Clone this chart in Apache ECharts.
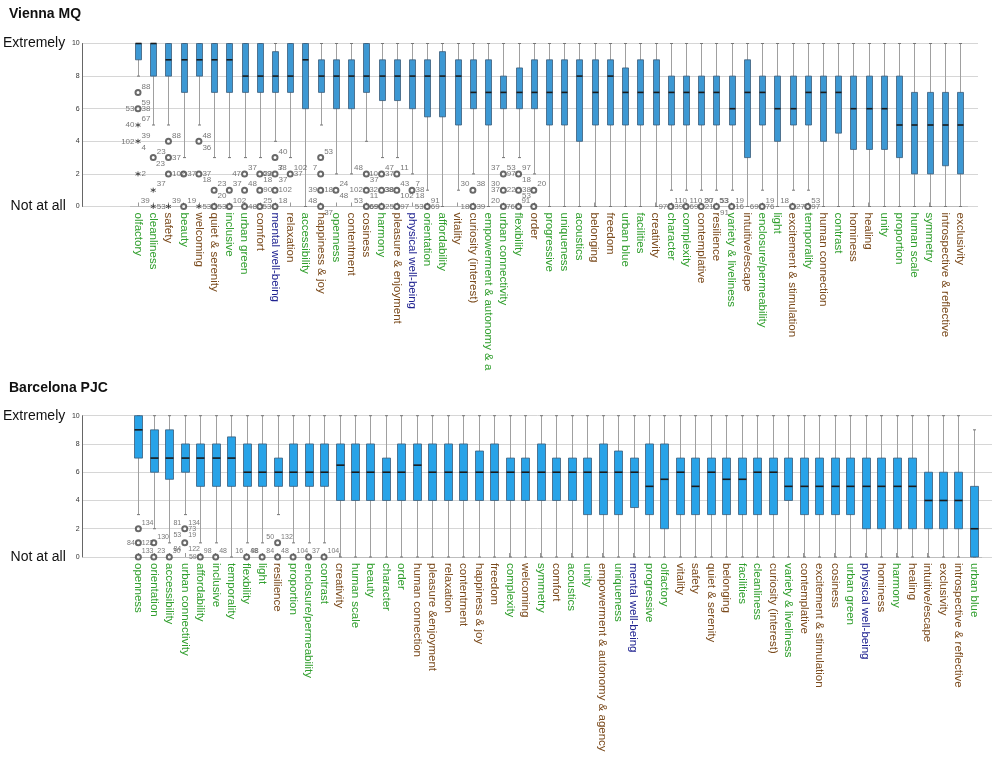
<!DOCTYPE html>
<html>
<head>
<meta charset="utf-8">
<script src="https://cdn.jsdelivr.net/npm/echarts@6/dist/echarts.min.js"></script>
<style>
  html, body { margin: 0; padding: 0; background: #fff; }
  #chart { width: 996px; height: 763px; }
</style>
</head>
<body>
<div id="chart"></div>
<script>
// ---- Vienna MQ ----
var viennaCats = ['olfactory', 'cleanliness', 'safety', 'beauty', 'welcoming', 'quiet & serenity', 'inclusive',
  'urban green', 'comfort', 'mental well-being', 'relaxation', 'accessibility', 'happiness & joy', 'openness',
  'contentment', 'cosiness', 'harmony', 'pleasure & enjoyment', 'physical well-being', 'orientation',
  'affordability', 'vitality', 'curiosity (interest)', 'empowerment & autonomy & agency', 'urban connectivity',
  'flexibility', 'order', 'progressive', 'uniqueness', 'acoustics', 'belonging', 'freedom', 'urban blue',
  'facilities', 'creativity', 'character', 'complexity', 'contemplative', 'resilience', 'variety & liveliness',
  'intuitive/escape', 'enclosure/permeability', 'light', 'excitement & stimulation', 'temporality',
  'human connection', 'contrast', 'hominess', 'healing', 'unity', 'proportion', 'human scale', 'symmetry',
  'introspective & reflective', 'exclusivity'];
// g = green, b = brown, n = navy
var viennaKinds = 'ggbgbbggbnbgbgbbgbnggbbgggbgggbbggbggbbgbggbgbgbbggggbb';
// [lower whisker, Q1, median, Q3, upper whisker]
var viennaBoxes = [
  [8, 9, 10, 10, 10], [5, 8, 10, 10, 10], [5, 8, 9, 10, 10], [3, 7, 9, 10, 10], [5, 8, 9, 10, 10],
  [3, 7, 9, 10, 10], [3, 7, 9, 10, 10], [3, 7, 8, 10, 10], [3, 7, 8, 10, 10], [4, 7, 8, 9.5, 10],
  [3, 7, 8, 10, 10], [0, 6, 9, 10, 10], [5, 7, 8, 9, 10], [2, 6, 8, 9, 10], [2, 6, 8, 9, 10],
  [4, 7, 8, 10, 10], [3, 6.5, 8, 9, 10], [3, 6.5, 8, 9, 10], [2, 6, 8, 9, 10], [1, 5.5, 8, 9, 10],
  [0, 5.5, 8, 9.5, 10], [1, 5, 8, 9, 10], [2, 6, 7, 9, 10], [0, 5, 7, 9, 10], [3, 6, 7, 8, 10],
  [3, 6, 7, 8.5, 10], [2, 6, 7, 9, 10], [0, 5, 7, 9, 10], [0, 5, 7, 9, 10], [0, 4, 8, 9, 10],
  [0, 5, 7, 9, 10], [0, 5, 8, 9, 10], [0, 5, 7, 8.5, 10], [0, 5, 7, 9, 10], [0, 5, 7, 9, 10],
  [1, 5, 7, 8, 10], [1, 5, 7, 8, 10], [1, 5, 7, 8, 10], [1, 5, 7, 8, 10], [1, 5, 6, 8, 10],
  [0, 3, 7, 9, 10], [1, 5, 7, 8, 10], [0, 4, 6, 8, 10], [1, 5, 6, 8, 10], [1, 5, 7, 8, 10],
  [0, 4, 7, 8, 10], [0, 4.5, 7, 8, 10], [0, 3.5, 6, 8, 10], [0, 3.5, 6, 8, 10], [0, 3.5, 6, 8, 10],
  [0, 3, 5, 8, 10], [0, 2, 5, 7, 10], [0, 2, 5, 7, 10], [0, 2.5, 5, 7, 10], [0, 2, 5, 7, 10]];
// outliers: [category index, value, case ids in order: right, left, upper-right, lower-right, upper-left, lower-left]
var viennaOutliers = [
  [0, 7, ['', '', '88']], [0, 6, ['38', '53', '59']], [1, 3, ['', '', '23']], [2, 4, ['', '', '88']],
  [2, 3, ['37', '', '', '', '', '23']], [2, 2, ['102']], [3, 2, ['37']], [3, 0, ['', '', '19']],
  [4, 4, ['', '', '48', '36']], [4, 2, ['37', '', '', '18']], [5, 1, ['', '', '23', '20']], [5, 0, ['53']],
  [6, 1, ['', '', '37']], [6, 0, ['', '', '102']], [7, 2, ['', '47', '37']], [7, 1, ['', '', '48']],
  [7, 0, ['48']], [8, 2, ['22', '', '', '18']], [8, 1, ['90']], [8, 0, ['', '', '25']],
  [9, 3, ['', '', '40']], [9, 2, ['', '69', '7', '37']], [9, 1, ['102']], [9, 0, ['', '53', '18']],
  [10, 2, ['37', '', '102', '', '38']], [12, 3, ['', '', '53']], [12, 2, ['', '', '', '', '7']],
  [12, 1, ['18', '39']], [12, 0, ['', '', '', '37', '48']], [13, 1, ['', '', '24', '48']],
  [15, 2, ['', '', '', '37', '48']], [15, 1, ['', '102', '', '11']], [15, 0, ['69', '', '', '', '53']],
  [16, 2, ['37', '10', '47']], [16, 1, ['38', '32']], [16, 0, ['25', '69']], [17, 2, ['', '', '11']],
  [17, 1, ['', '38', '43', '102']], [17, 0, ['97']], [18, 1, ['38', '', '7', '18']], [19, 0, ['69', '53', '91']],
  [22, 1, ['', '', '38', '', '30']], [22, 0, ['39', '18']], [24, 2, ['97', '', '53', '', '37']],
  [24, 1, ['22', '37', '', '', '30']], [24, 0, ['', '', '', '', '20']], [25, 2, ['', '', '97', '18']],
  [25, 1, ['38', '', '', '53']], [25, 0, ['', '76']], [26, 1, ['', '', '20']], [26, 0, ['', '', '', '', '91']],
  [35, 0, ['39', '97', '110']], [36, 0, ['69', '', '110']], [37, 0, ['21', '', '97']],
  [38, 0, ['', '', '53', '91', '20']], [39, 0, ['16', '', '19', '', '53']], [41, 0, ['76', '69', '19']],
  [43, 0, ['27', '', '', '', '18']], [44, 0, ['97', '', '53']]];
var viennaExtremes = [
  [0, 5, ['', '40', '67']], [0, 4, ['', '102', '39', '4']], [0, 2, ['2']], [1, 1, ['', '', '37']],
  [1, 0, ['53', '', '', '', '39']], [2, 0, ['', '', '39']], [4, 0, ['53']]];

// ---- Barcelona PJC ----
var barcelonaCats = ['openness', 'orientation', 'accessibility', 'urban connectivity', 'affordability', 'inclusive',
  'temporality', 'flexbility', 'light', 'resilience', 'proportion', 'enclosure/permeability', 'contrast',
  'creativity', 'human scale', 'beauty', 'character', 'order', 'human connection', 'pleasure &enjoyment',
  'relaxation', 'contentment', 'happiness & joy', 'freedom', 'complexity', 'welcoming', 'symmetry', 'comfort',
  'acoustics', 'unity', 'empowerment & autonomy & agency', 'uniqueness', 'mental well-being', 'progressive',
  'olfactory', 'vitality', 'safety', 'quiet & serenity', 'belonging', 'facilities', 'cleanliness',
  'curiosity (interest)', 'variety & liveliness', 'contemplative', 'excitement & stimulation', 'cosiness',
  'urban green', 'physical well-being', 'hominess', 'harmony', 'healing', 'intuitive/escape', 'exclusivity',
  'introspective & reflective', 'urban blue'];
var barcelonaKinds = 'gggggggggbgggbggggbbbbbbgbgbggbgnggbbbbggbgbbbgnbgbbbbg';
var barcelonaBoxes = [
  [3, 7, 9, 10, 10], [2, 6, 7, 9, 10], [1, 5.5, 7, 9, 10], [3, 6, 7, 8, 10], [1, 5, 7, 8, 10],
  [1, 5, 7, 8, 10], [0, 5, 7, 8.5, 10], [1, 5, 6, 8, 10], [1, 5, 6, 8, 10], [3, 5, 6, 7, 10],
  [1, 5, 6, 8, 10], [1, 5, 6, 8, 10], [1, 5, 6, 8, 10], [0, 4, 6.5, 8, 10], [0, 4, 6, 8, 10],
  [0, 4, 6, 8, 10], [0, 4, 6, 7, 10], [0, 4, 6, 8, 10], [0, 4, 6.5, 8, 10], [0, 4, 6, 8, 10],
  [0, 4, 6, 8, 10], [0, 4, 6, 8, 10], [0, 4, 6, 7.5, 10], [0, 4, 6, 8, 10], [0, 4, 6, 7, 10],
  [0, 4, 6, 7, 10], [0, 4, 6, 8, 10], [0, 4, 6, 7, 10], [0, 4, 6, 7, 10], [0, 3, 6, 7, 10],
  [0, 3, 6, 8, 10], [0, 3, 6, 7.5, 10], [0, 3.5, 6, 7, 10], [0, 3, 5, 8, 10], [0, 2, 5.5, 8, 10],
  [0, 3, 6, 7, 10], [0, 3, 5, 7, 10], [0, 3, 6, 7, 10], [0, 3, 5.5, 7, 10], [0, 3, 5.5, 7, 10],
  [0, 3, 6, 7, 10], [0, 3, 6, 7, 10], [0, 4, 5, 7, 10], [0, 3, 5, 7, 10], [0, 3, 5, 7, 10],
  [0, 3, 5, 7, 10], [0, 3, 5, 7, 10], [0, 2, 5, 7, 10], [0, 2, 5, 7, 10], [0, 2, 5, 7, 10],
  [0, 2, 5, 7, 10], [0, 2, 4, 6, 10], [0, 2, 4, 6, 10], [0, 2, 4, 6, 10], [0, 0, 2, 5, 9]];
var barcelonaOutliers = [
  [0, 2, ['', '', '134']], [0, 1, ['122', '84']], [0, 0, ['', '', '133']], [1, 1, ['', '', '130']],
  [1, 0, ['', '', '23']], [2, 0, ['', '', '30']], [3, 2, ['73', '', '134', '19', '81', '53']],
  [3, 1, ['', '', '', '122', '', '84']], [4, 0, ['', '59', '98']], [5, 0, ['', '', '48']],
  [7, 0, ['', '', '48', '', '16']], [8, 0, ['', '', '', '', '98']], [9, 1, ['', '', '132', '', '50']],
  [9, 0, ['', '', '48', '', '84']], [10, 0, ['', '', '104']], [11, 0, ['', '', '37']], [12, 0, ['', '', '104']]];
var barcelonaExtremes = [];

var kindColor = { g: '#2f9e2c', b: '#7a4a1c', n: '#1f2290' };
var FONT = 'Arial, "Liberation Sans", sans-serif';

var chartDom = document.getElementById('chart');
var myChart = echarts.init(chartDom, null, { renderer: 'canvas' });

// one box drawn through the axis scales
function boxRenderer(fill, boxW) {
  return function (params, api) {
    var i = api.value(0);
    var low = api.coord([i, api.value(1)]);
    var q1 = api.coord([i, api.value(2)]);
    var med = api.coord([i, api.value(3)]);
    var q3 = api.coord([i, api.value(4)]);
    var high = api.coord([i, api.value(5)]);
    var cx = Math.round(low[0]) + 0.5;
    var h = boxW / 2;
    return {
      type: 'group',
      children: [
        { type: 'line', shape: { x1: cx, y1: high[1], x2: cx, y2: low[1] }, style: { stroke: '#a0a0a0', lineWidth: 1 } },
        { type: 'line', shape: { x1: cx - 1.5, y1: high[1], x2: cx + 1.5, y2: high[1] }, style: { stroke: '#777', lineWidth: 1 } },
        { type: 'line', shape: { x1: cx - 1.5, y1: low[1], x2: cx + 1.5, y2: low[1] }, style: { stroke: '#777', lineWidth: 1 } },
        { type: 'rect', shape: { x: cx - h, y: q3[1], width: boxW, height: q1[1] - q3[1] },
          style: { fill: fill, stroke: '#3b5c78', lineWidth: 0.8 } },
        { type: 'line', shape: { x1: cx - h, y1: med[1], x2: cx + h, y2: med[1] }, style: { stroke: '#1b1b1b', lineWidth: 1.6 } }
      ]
    };
  };
}

var slotOffsets = [
  { position: 'right', offset: [0, 0] }, { position: 'left', offset: [0, 0] },
  { position: 'right', offset: [0, -6] }, { position: 'right', offset: [0, 6] },
  { position: 'left', offset: [0, -6] }, { position: 'left', offset: [0, 6] }];

function labelData(list, fontSize) {
  var out = [];
  list.forEach(function (o) {
    o[2].forEach(function (id, k) {
      if (!id) return;
      out.push({
        value: [o[0], o[1]],
        label: { show: true, formatter: id, position: slotOffsets[k].position, offset: slotOffsets[k].offset,
          distance: 1, fontSize: fontSize, color: '#555', fontFamily: FONT }
      });
    });
  });
  return out;
}

var asterisk = 'path://M0,-5L0,5M-4.3,-2.5L4.3,2.5M-4.3,2.5L4.3,-2.5';

function buildPanel(p) {
  var g = p.gridBase;
  var kindOf = {};
  p.cats.forEach(function (c, i) { kindOf[c] = p.kinds.charAt(i); });
  var grids = [
    { left: p.axisLeft, right: p.axisRight, top: p.top, height: p.height },
    { left: p.boxLeft, right: p.boxRight, top: p.top, height: p.height }
  ];
  var xAxes = [
    { gridIndex: g, type: 'value', show: false, min: 0, max: 1 },
    { gridIndex: g + 1, type: 'category', data: p.cats, boundaryGap: true,
      axisLine: { show: true, lineStyle: { color: '#bdbdbd' } },
      axisTick: { show: true, inside: true, length: 4, alignWithLabel: true, lineStyle: { color: '#999' } },
      axisLabel: { interval: 0, rotate: -90, margin: 6, fontSize: 11.5, fontFamily: FONT,
        width: p.labelWidth, overflow: 'truncate', ellipsis: ' ',
        color: function (v) { return kindColor[kindOf[v]]; } } }
  ];
  var yAxes = [
    { gridIndex: g, type: 'value', min: 0, max: 10, interval: 2,
      axisLine: { show: true, lineStyle: { color: '#666' } }, axisTick: { show: false },
      splitLine: { show: true, lineStyle: { color: '#d6d6d6' } },
      axisLabel: { margin: 3, fontFamily: FONT,
        formatter: function (v) {
          if (v === 10) return '{big|Extremely}  {small|10}';
          if (v === 0) return '{big|Not at all}   {small|0}';
          return '{small|' + v + '}';
        },
        rich: { big: { fontSize: 14, color: '#111', fontFamily: FONT }, small: { fontSize: 7, color: '#333', fontFamily: FONT } } } },
    { gridIndex: g + 1, type: 'value', min: 0, max: 10, show: false, splitLine: { show: false } }
  ];
  var series = [
    { type: 'custom', xAxisIndex: g + 1, yAxisIndex: g + 1, renderItem: boxRenderer(p.fill, p.boxW),
      encode: { x: 0, y: [1, 2, 3, 4, 5] },
      data: p.boxes.map(function (b, i) { return [i].concat(b); }), z: 2 },
    { type: 'scatter', xAxisIndex: g + 1, yAxisIndex: g + 1, symbol: 'emptyCircle', symbolSize: 5,
      itemStyle: { color: '#444', borderWidth: 1 }, z: 3,
      data: p.outliers.map(function (o) { return [o[0], o[1]]; }) },
    { type: 'scatter', xAxisIndex: g + 1, yAxisIndex: g + 1, symbol: asterisk, symbolSize: 5,
      itemStyle: { color: '#333', borderColor: '#333', borderWidth: 1 }, z: 3,
      data: p.extremes.map(function (o) { return [o[0], o[1]]; }) },
    { type: 'scatter', xAxisIndex: g + 1, yAxisIndex: g + 1, symbolSize: 5,
      itemStyle: { color: 'rgba(0,0,0,0)' }, z: 4,
      data: labelData(p.outliers.concat(p.extremes), p.idFont) }
  ];
  return { grids: grids, xAxes: xAxes, yAxes: yAxes, series: series };
}

var viennaPanel = buildPanel({ gridBase: 0, cats: viennaCats, kinds: viennaKinds, boxes: viennaBoxes,
  outliers: viennaOutliers, extremes: viennaExtremes,
  axisLeft: 76, axisRight: 18, boxLeft: 130.4, boxRight: 28.4, top: 43.5, height: 163,
  fill: '#3d98d3', boxW: 6, idFont: 8, labelWidth: 163 });
var barcelonaPanel = buildPanel({ gridBase: 2, cats: barcelonaCats, kinds: barcelonaKinds, boxes: barcelonaBoxes,
  outliers: barcelonaOutliers, extremes: barcelonaExtremes,
  axisLeft: 82.7, axisRight: 4, boxLeft: 130.6, boxRight: 14.3, top: 415.7, height: 141.3,
  fill: '#28a3e8', boxW: 8, idFont: 7, labelWidth: 200 });

var option = {
  backgroundColor: '#fff',
  animation: false,
  title: [
    { text: 'Vienna MQ', left: 4, top: 2, textStyle: { fontSize: 14, fontWeight: 'bold', color: '#111', fontFamily: FONT } },
    { text: 'Barcelona PJC', left: 4, top: 376, textStyle: { fontSize: 14, fontWeight: 'bold', color: '#111', fontFamily: FONT } }
  ],
  grid: viennaPanel.grids.concat(barcelonaPanel.grids),
  xAxis: viennaPanel.xAxes.concat(barcelonaPanel.xAxes),
  yAxis: viennaPanel.yAxes.concat(barcelonaPanel.yAxes),
  series: viennaPanel.series.concat(barcelonaPanel.series)
};

myChart.setOption(option);
</script>
</body>
</html>
